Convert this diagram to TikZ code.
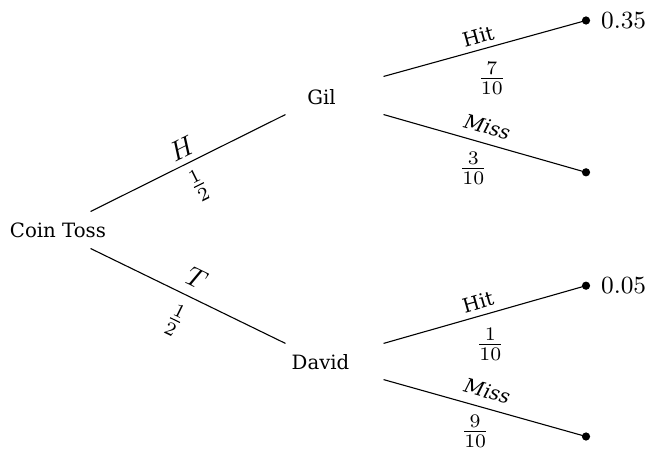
\documentclass[tikz,border=0pt]{standalone}
\usepackage{fontspec}
\setmainfont{DejaVu Serif}
\begin{document}
\begin{tikzpicture}[x=0.365pt,y=-0.365pt,
  box/.style={draw=none,rectangle,inner sep=0pt,minimum width=35.4pt},
  nodetext/.style={font=\fontsize{7.2}{8.6}\selectfont,inner sep=0pt},
  leaf/.style={circle,fill=black,inner sep=0pt,minimum size=3.0pt},
  prob/.style={font=\fontsize{9.2}{11}\selectfont,inner sep=0pt,label distance=3.6pt},
  elab/.style={font=\fontsize{7.2}{8.6}\selectfont,inner sep=0pt,anchor=center,sloped},
  mlab/.style={inner sep=0pt,anchor=center,sloped},
  flab/.style={inner sep=0pt,anchor=center},
  edge/.style={line width=0.4pt}]
\useasboundingbox (0,0) rectangle (649,448);
% tree nodes
\node[box,minimum height=13.1pt,label={[nodetext,xshift=6.0pt]center:Coin Toss}] (root) at (41.5,230) {};
\node[box,minimum height=13.5pt,label={[nodetext,xshift=-4.75pt,yshift=-0.73pt]center:Gil}] (gil) at (334.5,95.5) {};
\node[box,minimum height=12.8pt,label={[nodetext,xshift=-5.1pt,yshift=-0.37pt]center:David}] (david) at (334.5,361.5) {};
% leaves
\node[leaf,label={[prob]east:$0.35$}] (l1) at (586,20.5) {};
\node[leaf] (l2) at (586,172.3) {};
\node[leaf,label={[prob]east:$0.05$}] (l3) at (586,285.7) {};
\node[leaf] (l4) at (586,436.5) {};
% first level
\draw[edge] (root.north east) --
  node[mlab,pos=0.505,yshift=5.9pt] (lh) {$H$}
  node[mlab,pos=0.50,yshift=-9.0pt] (lh2) {$\frac{1}{2}$} (gil.south west);
\draw[edge] (root.south east) --
  node[mlab,pos=0.50,yshift=7.3pt] (lt) {$T$}
  node[mlab,pos=0.495,yshift=-10pt] (lt2) {$\frac{1}{2}$} (david.north west);
% second level
\draw[edge] (gil.north east) --
  node[elab,pos=0.485,yshift=4.9pt] (gh) {Hit}
  node[flab,pos=0.5,xshift=2.6pt,yshift=-10.8pt] (gh2) {$\frac{7}{10}$} (l1.center);
\draw[edge] (gil.south east) --
  node[elab,pos=0.49,yshift=6.1pt] (gm) {\itshape Miss}
  node[flab,pos=0.5,xshift=-4.2pt,yshift=-9.1pt] (gm2) {$\frac{3}{10}$} (l2.center);
\draw[edge] (david.north east) --
  node[elab,pos=0.485,yshift=5.0pt] (dh) {Hit}
  node[flab,pos=0.5,xshift=2.0pt,yshift=-10.8pt] (dh2) {$\frac{1}{10}$} (l3.center);
\draw[edge] (david.south east) --
  node[elab,pos=0.49,yshift=6.2pt] (dm) {\itshape Miss}
  node[flab,pos=0.5,xshift=-3.5pt,yshift=-8.5pt] (dm2) {$\frac{9}{10}$} (l4.center);
\end{tikzpicture}
\end{document}
